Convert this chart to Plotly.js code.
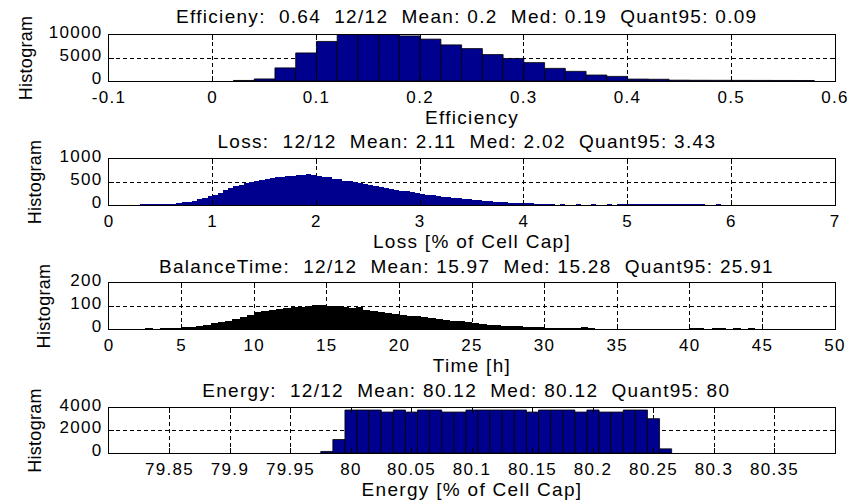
<!DOCTYPE html>
<html>
<head>
<meta charset="utf-8">
<script src="https://cdn.plot.ly/plotly-3.0.1.min.js"></script>
<style>
html,body{margin:0;padding:0;background:#fff;}
#chart{width:852px;height:504px;}
#chart svg text{letter-spacing:1.3px;}
#chart svg text[class^="y"][class$="title"]{letter-spacing:0.3px;}
</style>
</head>
<body>
<div id="chart"></div>
<script>
// ---------- DATA ----------
// Efficiency histogram (bin width 0.02, first bin centre 0.03)
const effFirstCenter = 0.03;
const effBinWidth = 0.02;
const effCounts = [120, 450, 2850, 6100, 8600, 10400, 10600, 10500, 9800, 9100,
  7850, 7050, 5750, 4900, 4000, 2750, 2100, 1300, 1000, 420,
  380, 180, 160, 150, 140, 130, 120, 110];

// Loss histogram (bin width 0.05, first bin centre 0.325)
const lossFirstCenter = 0.325;
const lossBinWidth = 0.05;
const lossCounts = [15,18,16,20,22,28,32,40,55,75,
  95,120,160,195,225,265,330,365,405,440,
  470,505,525,550,565,580,600,615,625,640,
  650,660,672,650,638,615,600,575,555,530,
  515,495,470,455,440,410,390,375,350,330,
  310,295,275,260,245,225,210,195,180,170,
  160,145,130,120,110,100,88,80,70,62,
  58,52,48,45,42,38,22,15,
  12,11,10,12,9,10,11,9,10,12,
  10,9,11,10,12,14,13,15,17,16,
  18,15,17,19,16,18,20,17,15,13,
  12,10,9,11,8,10,7,9,6,8,
  5,7,4,6,3];

// Balance time histogram (bin width 0.5 h, first bin centre 2.25)
const timeFirstCenter = 2.25;
const timeBinWidth = 0.5;
const timeCounts = [2,3,2,3,4,5,7,10,14,18,
  24,30,34,44,52,62,72,78,82,87,
  90,94,97,101,104,106,101,98,94,92,
  95,84,78,74,70,65,63,58,55,51,
  48,44,40,36,33,29,27,22,19,17,
  15,13,12,10,9,7,6,5,5,6,
  5,7,3,2,2,1,2,1,2,1,
  1,2,1,1,1,2,3,3,2,3,
  3,2,3,2,3,1,0,0,1,0,
  0,0,0,0,1,1];

// Energy histogram (bin width 0.01, first bin centre 79.98)
const energyFirstCenter = 79.98;
const energyBinWidth = 0.01;
const energyCounts = [140, 1200, 3820, 3820, 3820, 3640, 3820, 3640, 3820, 3820,
  3640, 3640, 3820, 3820, 3820, 3820, 3820, 3640, 3820, 3820,
  3820, 3640, 3820, 3640, 3640, 3820, 3820, 3050, 370];

// Titles (double spaces kept as non-breaking spaces)
const panelTitles = [
  'Efficieny:\u00a0\u00a00.64\u00a0\u00a012/12\u00a0\u00a0Mean: 0.2\u00a0\u00a0Med: 0.19\u00a0\u00a0Quant95: 0.09',
  'Loss:\u00a0\u00a012/12\u00a0\u00a0Mean: 2.11\u00a0\u00a0Med: 2.02\u00a0\u00a0Quant95: 3.43',
  'BalanceTime:\u00a0\u00a012/12\u00a0\u00a0Mean: 15.97\u00a0\u00a0Med: 15.28\u00a0\u00a0Quant95: 25.91',
  'Energy:\u00a0\u00a012/12\u00a0\u00a0Mean: 80.12\u00a0\u00a0Med: 80.12\u00a0\u00a0Quant95: 80'
];
const xTitles = ['Efficiency', 'Loss [% of Cell Cap]', 'Time [h]', 'Energy [% of Cell Cap]'];
const yTitle = 'Histogram';

// Tick values / labels
const effTickVals = [-0.1, 0, 0.1, 0.2, 0.3, 0.4, 0.5, 0.6];
const effTickText = ['-0.1', '0', '0.1', '0.2', '0.3', '0.4', '0.5', '0.6'];
const lossTickVals = [0, 1, 2, 3, 4, 5, 6, 7];
const timeTickVals = [0, 5, 10, 15, 20, 25, 30, 35, 40, 45, 50];
const energyTickVals = [79.85, 79.9, 79.95, 80, 80.05, 80.1, 80.15, 80.2, 80.25, 80.3, 80.35];
const energyTickText = ['79.85', '79.9', '79.95', '80', '80.05', '80.1', '80.15', '80.2', '80.25', '80.3', '80.35'];
const effYTicks = [0, 5000, 10000];
const lossYTicks = [0, 500, 1000];
const timeYTicks = [0, 100, 200];
const energyYTicks = [0, 2000, 4000];

// ---------- STYLE ----------
const NAVY = '#00008f';
const FAMILY = 'Liberation Sans, Arial, sans-serif';
const TICKFONT = {family: FAMILY, size: 17, color: '#000'};
const TITLEFONT = {family: FAMILY, size: 19, color: '#000'};
const YTITLEFONT = {family: FAMILY, size: 18, color: '#000'};

function bar(counts, x0, dx, xa, ya, fill, lw) {
  return {
    type: 'bar', y: counts, x0: x0, dx: dx, width: dx,
    xaxis: xa, yaxis: ya,
    marker: {color: fill, line: {color: '#000', width: lw}},
    hoverinfo: 'x+y', showlegend: false
  };
}

const traces = [
  bar(effCounts, effFirstCenter, effBinWidth, 'x', 'y', NAVY, 0.8),
  bar(lossCounts, lossFirstCenter, lossBinWidth, 'x2', 'y2', NAVY, 0),
  bar(timeCounts, timeFirstCenter, timeBinWidth, 'x3', 'y3', '#000', 0),
  bar(energyCounts, energyFirstCenter, energyBinWidth, 'x4', 'y4', NAVY, 0.8)
];

const H = 504;
function dom(topPx, botPx) { return [1 - botPx / H, 1 - topPx / H]; }
const plotTops = [35, 159, 283, 408];
const plotBots = [81, 205, 329, 453];
const titleCenters = [16, 141, 266, 390];

function xax(range, anchor, tickvals, ticktext, title) {
  const a = {
    range: range, anchor: anchor, domain: [0, 1],
    tickmode: 'array', tickvals: tickvals,
    ticks: 'inside', ticklen: 5, tickcolor: '#000', tickwidth: 1,
    showline: true, linecolor: '#000', linewidth: 1, mirror: 'ticks',
    showgrid: true, gridcolor: '#000', gridwidth: 1, griddash: '4px,3px',
    zeroline: false, tickfont: TICKFONT, ticklabelstandoff: 1,
    title: {text: title, font: TITLEFONT, standoff: 0},
    automargin: false, fixedrange: true
  };
  if (ticktext) a.ticktext = ticktext;
  return a;
}
function yax(range, anchor, tickvals, d) {
  return {
    range: range, anchor: anchor, domain: d,
    tickmode: 'array', tickvals: tickvals, ticktext: tickvals.map(String),
    ticks: 'inside', ticklen: 5, tickcolor: '#000', tickwidth: 1,
    showline: true, linecolor: '#000', linewidth: 1, mirror: 'ticks',
    showgrid: true, gridcolor: '#000', gridwidth: 1, griddash: '4px,3px',
    zeroline: false, tickfont: TICKFONT, ticklabelstandoff: 2, ticklabelshift: -3,
    title: {text: yTitle, font: YTITLEFONT, standoff: 18},
    automargin: false, fixedrange: true
  };
}

const layout = {
  width: 852, height: 504,
  margin: {l: 109, r: 17, t: 0, b: 0},
  paper_bgcolor: '#fff', plot_bgcolor: '#fff',
  font: TICKFONT, bargap: 0, showlegend: false,
  xaxis: xax([-0.1, 0.6], 'y', effTickVals, effTickText, xTitles[0]),
  yaxis: yax([0, 10000], 'x', effYTicks, dom(plotTops[0], plotBots[0])),
  xaxis2: xax([0, 7], 'y2', lossTickVals, null, xTitles[1]),
  yaxis2: yax([0, 1000], 'x2', lossYTicks, dom(plotTops[1], plotBots[1])),
  xaxis3: xax([0, 50], 'y3', timeTickVals, null, xTitles[2]),
  yaxis3: yax([0, 200], 'x3', timeYTicks, dom(plotTops[2], plotBots[2])),
  xaxis4: xax([79.8, 80.4], 'y4', energyTickVals, energyTickText, xTitles[3]),
  yaxis4: yax([0, 4000], 'x4', energyYTicks, dom(plotTops[3], plotBots[3])),
  annotations: panelTitles.map((t, i) => ({
    text: t, xref: 'paper', yref: 'paper', x: 0.493, y: 1 - titleCenters[i] / H,
    xanchor: 'center', yanchor: 'middle', showarrow: false, font: TITLEFONT
  }))
};

Plotly.newPlot('chart', traces, layout, {displayModeBar: false, staticPlot: true});
</script>
</body>
</html>
